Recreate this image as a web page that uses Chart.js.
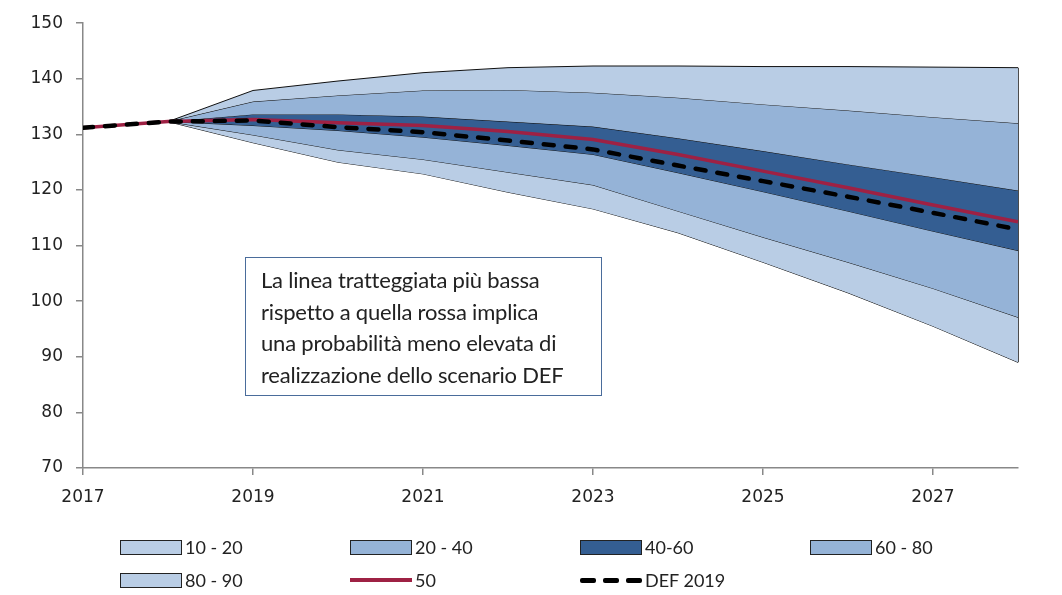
<!DOCTYPE html>
<html lang="it">
<head>
    <meta charset="UTF-8">
    <title>Fan chart DEF 2019</title>
    <script src="https://cdn.jsdelivr.net/npm/chart.js"></script>
    <style>
        body { margin: 0; background: #fff; }
        #wrap { position: relative; width: 1062px; height: 595px; }
        #note {
            position: absolute; left: 245px; top: 257px; width: 340px; height: 131px;
            border: 1.5px solid #4a6c9b; padding: 6px 0 0 15px;
            font-family: Lato, sans-serif; font-size: 22px; line-height: 31.5px; color: #222;
            letter-spacing: -0.2px;
        }
        .leg { position: absolute; font-family: Lato, sans-serif; font-size: 18px; color: #222; display: flex; align-items: center; }
        .box { width: 60px; height: 13px; border: 1.5px solid #222; margin-right: 3px; }
        .ln { width: 62px; height: 4px; margin-right: 3px; }
        .dash { width: 62px; height: 5px; margin-right: 3px; display: flex; justify-content: space-between; }
        .dash i { display: block; width: 16px; height: 5px; background: #000; border-radius: 2px; }
    </style>
</head>
<body>
<div id="wrap">
    <canvas id="fanChart" width="1062" height="595"></canvas>
    <div id="note">La linea tratteggiata più bassa<br>rispetto a quella rossa implica<br>una probabilità meno elevata di<br>realizzazione dello scenario DEF</div>
    <div id="legend"></div>
</div>

<script>
    const years = [2017, 2018, 2019, 2020, 2021, 2022, 2023, 2024, 2025, 2026, 2027, 2028];
    const xTicks = [2017, 2019, 2021, 2023, 2025, 2027];

    const p90 = [131.2, 132.3, 137.9, 139.6, 141.1, 142.0, 142.3, 142.3, 142.2, 142.2, 142.1, 142.0];
    const p80 = [131.2, 132.3, 135.9, 137.0, 137.9, 138.0, 137.5, 136.6, 135.4, 134.3, 133.1, 132.0];
    const p60 = [131.2, 132.3, 133.6, 133.6, 133.2, 132.3, 131.4, 129.3, 127.0, 124.6, 122.3, 119.9];
    const p50 = [131.2, 132.3, 132.7, 132.1, 131.6, 130.5, 129.1, 126.4, 123.4, 120.4, 117.3, 114.3];
    const def2019 = [131.2, 132.3, 132.5, 131.3, 130.4, 128.9, 127.3, 124.4, 121.6, 118.8, 115.9, 112.9];
    const p40 = [131.2, 132.3, 131.6, 130.7, 129.5, 128.0, 126.4, 123.1, 119.7, 116.2, 112.6, 109.1];
    const p20 = [131.2, 132.3, 129.9, 127.2, 125.5, 123.2, 120.9, 116.2, 111.5, 107.0, 102.3, 97.1];
    const p10 = [131.2, 132.3, 128.5, 125.0, 122.9, 119.6, 116.6, 112.3, 107.0, 101.5, 95.5, 89.0];

    const light = "#b9cde5";
    const medium = "#95b3d7";
    const dark = "#345e92";
    const red = "#9e2144";

    function pts(arr) {
        return years.map((y, i) => ({ x: y, y: arr[i] }));
    }

    function band(label, arr, fillColor) {
        return {
            label: label,
            data: pts(arr),
            borderColor: "#111",
            borderWidth: 1,
            backgroundColor: fillColor,
            fill: fillColor ? "+1" : false,
            pointRadius: 0,
            tension: 0,
            order: 2
        };
    }

    // vertical edge closing the fan at the last year
    const edgePlugin = {
        id: "edge",
        beforeDatasetsDraw(chart) {
            const x = chart.scales.x, y = chart.scales.y, ctx = chart.ctx;
            const last = years.length - 1;
            ctx.save();
            ctx.strokeStyle = "#111";
            ctx.lineWidth = 1.5;
            ctx.beginPath();
            ctx.moveTo(x.getPixelForValue(years[last]), y.getPixelForValue(p90[last]));
            ctx.lineTo(x.getPixelForValue(years[last]), y.getPixelForValue(p10[last]));
            ctx.stroke();
            ctx.restore();
        }
    };

    const ctx = document.getElementById("fanChart").getContext("2d");
    new Chart(ctx, {
        type: "line",
        data: {
            datasets: [
                band("80 - 90", p90, light),
                band("60 - 80", p80, medium),
                band("40-60", p60, dark),
                band("20 - 40", p40, medium),
                band("10 - 20", p20, light),
                band("", p10, null),
                {
                    label: "50",
                    data: pts(p50),
                    borderColor: red,
                    borderWidth: 3.5,
                    pointRadius: 0,
                    fill: false,
                    order: 1
                },
                {
                    label: "DEF 2019",
                    data: pts(def2019),
                    borderColor: "#000",
                    borderWidth: 4.5,
                    borderDash: [10, 12],
                    borderCapStyle: "round",
                    pointRadius: 0,
                    fill: false,
                    order: 0
                }
            ]
        },
        options: {
            responsive: false,
            animation: false,
            layout: { padding: { top: 20, right: 44, left: 0, bottom: 0 } },
            plugins: { legend: { display: false }, tooltip: { enabled: false } },
            scales: {
                x: {
                    type: "linear",
                    min: 2017,
                    max: 2028,
                    afterBuildTicks: (s) => { s.ticks = xTicks.map(v => ({ value: v })); },
                    afterFit: (s) => { s.height = 127; },
                    grid: { drawOnChartArea: false, tickLength: 7, color: "#888", lineWidth: 1.5 },
                    border: { color: "#888", width: 1.5 },
                    ticks: {
                        padding: 12,
                        color: "#222",
                        font: { family: "DejaVu Sans", size: 17 },
                        callback: (v) => String(v)
                    }
                },
                y: {
                    min: 70,
                    max: 150,
                    afterFit: (s) => { s.width = 83; },
                    grid: { drawOnChartArea: false, tickLength: 7, color: "#888", lineWidth: 1.5 },
                    border: { color: "#888", width: 1.5 },
                    ticks: {
                        stepSize: 10,
                        padding: 13,
                        color: "#222",
                        font: { family: "DejaVu Sans", size: 17 }
                    }
                }
            }
        },
        plugins: [edgePlugin]
    });

    // legend laid out as in the original, two rows of four columns
    const legendItems = [
        { text: "10 - 20", kind: "box", color: light },
        { text: "20 - 40", kind: "box", color: medium },
        { text: "40-60", kind: "box", color: dark },
        { text: "60 - 80", kind: "box", color: medium },
        { text: "80 - 90", kind: "box", color: light },
        { text: "50", kind: "line", color: red },
        { text: "DEF 2019", kind: "dash", color: "#000" }
    ];
    const legend = document.getElementById("legend");
    legendItems.forEach((item, i) => {
        const el = document.createElement("div");
        el.className = "leg";
        el.style.left = (120 + (i % 4) * 230) + "px";
        el.style.top = (536 + Math.floor(i / 4) * 33) + "px";
        const mark = document.createElement("span");
        if (item.kind === "box") {
            mark.className = "box";
            mark.style.background = item.color;
        } else if (item.kind === "line") {
            mark.className = "ln";
            mark.style.background = item.color;
        } else {
            mark.className = "dash";
            mark.innerHTML = "<i></i><i></i><i></i>";
        }
        el.appendChild(mark);
        el.appendChild(document.createTextNode(item.text));
        legend.appendChild(el);
    });
</script>
</body>
</html>
